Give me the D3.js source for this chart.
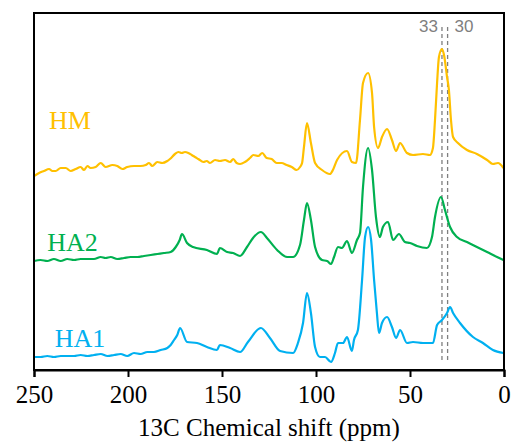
<!DOCTYPE html>
<html>
<head>
<meta charset="utf-8">
<script src="https://cdn.jsdelivr.net/npm/d3@7"></script>
<style>
  body { margin: 0; background: #fff; }
  svg { display: block; }
</style>
</head>
<body>
<div id="chart"></div>
<script>
// x ticks (ppm), reversed axis like an NMR plot
var xTicks = [250, 200, 150, 100, 50, 0];

// reference lines
var refPpm = [33, 30];
var refLabels = ["33", "30"];

var seriesNames = ["HM", "HA2", "HA1"];
var seriesColors = ["#FFC000", "#00B050", "#00B0F0"];

// [ppm, intensity a.u.]
var hmData = [
  [250,194],[247.3,197],[244.7,199],[242,201],[240.2,199],[238.5,199],[235.8,202],
  [233.1,202],[230.5,199],[227.8,201],[225.2,203],[223.4,200],[221.6,204],[219.9,202],
  [217.2,203],[214.5,207],[211.9,203],[208.3,205],[205.7,204],[203,201],[200.4,203],
  [196.8,204],[193.3,204],[190.6,205],[188.8,207],[187.1,204],[184.4,208],[181.8,207],
  [179.1,209],[177.7,211],[175,216],[173.2,218],[171.4,217],[169.7,218],[167.9,217],
  [166.1,215],[164.4,213],[162.6,211],[159.9,208],[158.1,209],[156.4,207],[153.7,210],
  [151.1,209],[148.4,210],[145.7,208],[144,211],[142.2,207],[140.4,206],[137.8,208],
  [135.1,212],[133.3,215],[130.7,214],[128.6,217],[126.2,212],[123.6,211],[120.9,207],
  [118.3,207],[115.6,205],[112.9,203],[110.3,200],[108.5,203],[107.4,207],[106.4,223],
  [104.8,247],[102.7,227],[100.5,207],[96.8,200],[92.6,196],[91,200],[88.8,210],
  [83.5,219],[80.9,208],[78.7,207],[76.6,250],[75,287],[72.3,297],[70.2,277],[69.1,243],
  [67,222],[64.9,233],[62.2,241],[59.6,230],[57.4,219],[55.3,227],[51.6,217],[48.4,215],
  [43.1,216],[39.4,215],[37.8,222],[36.7,250],[35.6,287],[34.6,313],[33,321],
  [31.9,315],[30.3,293],[29.3,280],[28.2,250],[27.1,233],[24.5,227],[19.7,220],
  [14.4,216],[9,210],[5.9,206],[3.2,207],[0.3,202]
];

var ha2Data = [
  [250,109],[246.5,110],[242.9,109],[239.4,111],[235.8,109],[232.3,111],[228.7,110],
  [225.2,111],[221.6,111],[218.1,111],[214.5,113],[211.9,112],[209.2,113],[205.7,111],
  [202.1,112],[198.6,113],[195,113],[191.5,114],[187.9,115],[184.4,116],[180.9,117],
  [177.3,118],[174.6,123],[172.5,130],[171.3,136],[168.6,127],[165.4,123],[158,120],
  [152.7,116],[151.1,122],[147.3,118],[144.1,117],[140.4,114],[136.7,123],[133.5,132],
  [129.3,138],[126.1,132],[120.7,120],[115.4,113],[112.2,113],[108.5,125],[106.4,150],
  [104.8,167],[102.7,150],[100.5,123],[96.8,110],[94.1,109],[92,106],[90.4,113],
  [88.3,123],[86.2,122],[83.5,129],[80.9,117],[78.2,130],[76.6,137],[75,183],
  [72.3,222],[70.2,200],[68.1,153],[66,133],[64.4,143],[61.7,148],[59,130],[55.9,136],
  [52.7,128],[50,127],[46.3,124],[41,122],[38.3,133],[36.7,153],[33.5,173],[31.4,160],
  [28.7,143],[25,133],[19.7,128],[14.4,123],[9,118],[3.7,113],[0.3,110]
];

var ha1Data = [
  [250,13],[246.5,13],[242.9,14],[239.4,13],[235.8,14],[232.3,14],[228.7,14],[225.2,15],
  [221.6,14],[218.1,15],[214.5,16],[210.9,14],[207.4,15],[203.9,16],[200.4,14],
  [196.8,17],[193.3,16],[189.7,18],[186.2,18],[182.6,20],[179.1,22],[177.3,25],
  [175.5,30],[173.8,35],[172.3,42],[168.6,28],[163.3,27],[158,23],[152.7,20],[151.1,25],
  [145.7,22],[140.4,18],[136.2,28],[129.3,42],[124.5,32],[119.1,19],[112.2,17],
  [109.6,27],[106.9,47],[104.8,77],[102.7,57],[100.5,23],[97.9,13],[95.2,13],[92,8],
  [89.9,17],[88.3,27],[85.6,27],[83.5,33],[80.9,19],[79.8,30],[77.7,40],[75.5,90],
  [73.9,133],[72.3,143],[70.7,130],[69.1,90],[67.6,57],[66.5,37],[64.9,47],[62.2,53],
  [59.6,43],[57.4,32],[55.3,40],[51.6,27],[48.4,28],[43.1,27],[37.8,27],[35.6,45],
  [33,50],[30.3,57],[28.7,63],[27.1,57],[23.4,47],[16.5,33],[11.2,27],[5.9,20],[0.3,17]
];

var allSeries = [hmData, ha2Data, ha1Data];
// label anchor: [ppm, intensity] for the left edge / baseline of each name
var labelPos = [[242, 241], [243, 119], [239, 23]];

var width = 515, height = 444;
var margin = {top: 13, right: 11, bottom: 74, left: 34};

var svg = d3.select("#chart").append("svg")
  .attr("width", width)
  .attr("height", height);

var x = d3.scaleLinear()
  .domain([250, 0])
  .range([margin.left, width - margin.right]);

var y = d3.scaleLinear()
  .domain([0, 357])
  .range([height - margin.bottom, margin.top]);

var serif = "'Liberation Serif', 'Times New Roman', serif";

// reference dashed lines
svg.selectAll(".ref")
  .data(refPpm)
  .enter().append("line")
  .attr("class", "ref")
  .attr("x1", function(d){ return x(d); })
  .attr("x2", function(d){ return x(d); })
  .attr("y1", 27)
  .attr("y2", 361)
  .style("stroke", "#7f7f7f")
  .style("stroke-width", 1.3)
  .style("stroke-dasharray", "4,3");

svg.selectAll(".refLabel")
  .data(refLabels)
  .enter().append("text")
  .attr("x", function(d, i){ return i == 0 ? x(refPpm[i]) - 4 : x(refPpm[i]) + 7; })
  .attr("y", 32)
  .attr("text-anchor", function(d, i){ return i == 0 ? "end" : "start"; })
  .style("font-family", "'Liberation Sans', Arial, sans-serif")
  .style("font-size", "17px")
  .style("fill", "#7f7f7f")
  .text(function(d){ return d; });

// spectra
var line = d3.line()
  .curve(d3.curveMonotoneX)
  .x(function(d){ return x(d[0]); })
  .y(function(d){ return y(d[1]); });

svg.selectAll(".spectrum")
  .data(allSeries)
  .enter().append("path")
  .attr("class", "spectrum")
  .attr("d", line)
  .style("fill", "none")
  .style("stroke", function(d, i){ return seriesColors[i]; })
  .style("stroke-width", 2.2)
  .style("stroke-linejoin", "round");

svg.selectAll(".name")
  .data(seriesNames)
  .enter().append("text")
  .attr("x", function(d, i){ return x(labelPos[i][0]); })
  .attr("y", function(d, i){ return y(labelPos[i][1]); })
  .style("font-family", serif)
  .style("font-size", "26px")
  .style("fill", function(d, i){ return seriesColors[i]; })
  .text(function(d){ return d; });

// frame
svg.append("rect")
  .attr("x", margin.left)
  .attr("y", margin.top)
  .attr("width", width - margin.left - margin.right)
  .attr("height", height - margin.top - margin.bottom)
  .style("fill", "none")
  .style("stroke", "#000")
  .style("stroke-width", 2);

// x axis
var xAxis = d3.axisBottom(x)
  .tickValues(xTicks)
  .tickSize(7)
  .tickPadding(8)
  .tickFormat(d3.format("d"));

var gx = svg.append("g")
  .attr("transform", "translate(0," + (height - margin.bottom) + ")")
  .call(xAxis);

gx.select(".domain").style("stroke", "#000").style("stroke-width", 2);
gx.selectAll(".tick line").style("stroke", "#000").style("stroke-width", 2);
gx.selectAll(".tick text")
  .style("font-family", serif)
  .style("font-size", "25px")
  .style("fill", "#000");

svg.append("text")
  .attr("x", (margin.left + width - margin.right) / 2)
  .attr("y", 436)
  .attr("text-anchor", "middle")
  .style("font-family", serif)
  .style("font-size", "25px")
  .style("fill", "#000")
  .text("13C Chemical shift (ppm)");
</script>
</body>
</html>
